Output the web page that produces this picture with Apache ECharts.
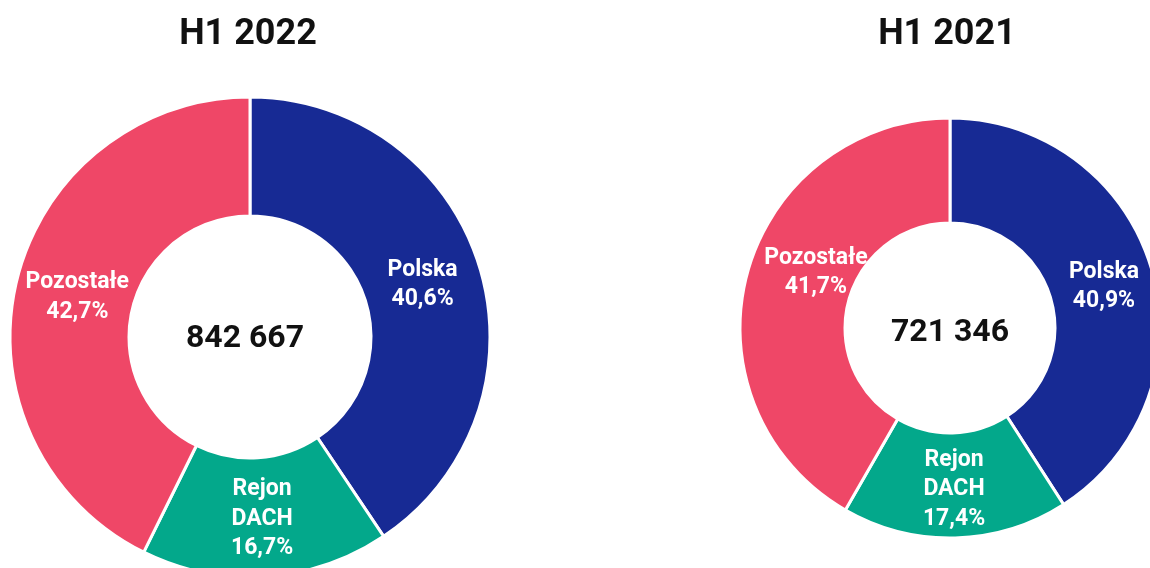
<!DOCTYPE html>
<html>
<head>
<meta charset="utf-8">
<script src="https://cdn.jsdelivr.net/npm/echarts@6/dist/echarts.min.js"></script>
<style>
html,body{margin:0;padding:0;background:#fff;}
#chart{width:1150px;height:568px;}
</style>
</head>
<body>
<div id="chart"></div>
<script>
const categories = ['Polska', 'Rejon\nDACH', 'Pozostałe'];
const values2022 = [40.6, 16.7, 42.7];
const values2021 = [40.9, 17.4, 41.7];
const titles = ['H1 2022', 'H1 2021'];
const totals = ['842 667', '721 346'];
const colors = ['#172A94', '#03A88B', '#EF4767'];

const chart = echarts.init(document.getElementById('chart'));
const font = 'Roboto';

function fmt(v) { return v.toFixed(1).replace('.', ','); }

function makeSeries(vals, center, radius, offsets) {
  return {
    type: 'pie',
    center: center,
    radius: radius,
    startAngle: 90,
    clockwise: true,
    avoidLabelOverlap: false,
    silent: true,
    itemStyle: { borderColor: '#fff', borderWidth: 3 },
    label: {
      show: true,
      position: 'inside',
      color: '#fff',
      fontFamily: font,
      fontWeight: 'bold',
      fontSize: 23,
      lineHeight: 29.5,
      formatter: p => p.name + '\n' + fmt(p.value) + '%'
    },
    labelLine: { show: false },
    data: categories.map((c, i) => ({
      name: c, value: vals[i],
      itemStyle: { color: colors[i] },
      label: { offset: offsets[i] }
    }))
  };
}

chart.setOption({
  animation: false,
  title: [
    { text: titles[0], left: 243, top: 12, textAlign: 'center', textStyle: { fontFamily: font, fontWeight: 'bold', fontSize: 36, color: '#111' } },
    { text: titles[1], left: 942, top: 12, textAlign: 'center', textStyle: { fontFamily: font, fontWeight: 'bold', fontSize: 36, color: '#111' } },
    { text: totals[0], left: 240, top: 318, textAlign: 'center', textStyle: { fontFamily: font, fontWeight: 'bold', fontSize: 32, color: '#111' } },
    { text: totals[1], left: 945, top: 312, textAlign: 'center', textStyle: { fontFamily: font, fontWeight: 'bold', fontSize: 32, color: '#111' } }
  ],
  series: [
    makeSeries(values2022, [250, 337], [121, 240], [[-3, 1], [0, -1], [6, 2]]),
    makeSeries(values2021, [950, 328], [105, 210], [[0, 4], [0, 1], [21, -14]])
  ]
});
</script>
</body>
</html>
